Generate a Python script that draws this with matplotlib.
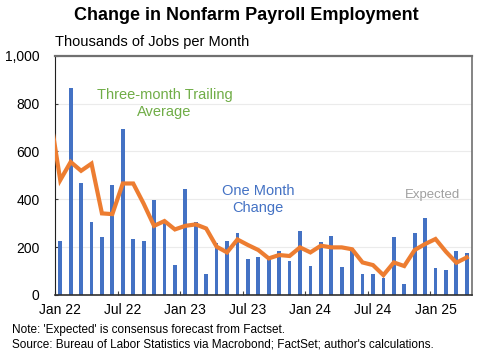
import numpy as np
import matplotlib.pyplot as plt

plt.rcParams['font.family'] = ['Liberation Sans', 'DejaVu Sans']

# monthly change, thousands (Jan 22 .. Apr 25, last one is expected)
one_month = [225, 866, 470, 305, 241, 460, 695, 236, 227, 398, 299, 127,
             444, 305, 86, 218, 227, 257, 149, 157, 153, 185, 142, 268,
             120, 221, 246, 118, 195, 86, 88, 71, 241, 45, 261, 323,
             111, 104, 185, 177]
# three-month trailing average (Dec 21 .. Apr 25)
trailing = [760, 480, 556, 519, 549, 341, 338, 466, 466, 382, 289, 309, 274,
            289, 295, 278, 202, 178, 232, 209, 188, 153, 167, 163, 199,
            178, 206, 199, 199, 191, 136, 125, 83, 136, 121, 188, 213,
            234, 181, 135, 157]
tick_labels = ['Jan 22', 'Jul 22', 'Jan 23', 'Jul 23', 'Jan 24', 'Jul 24', 'Jan 25']

blue = '#4472C4'
orange = '#ED7D31'
green = '#70AD47'

fig = plt.figure(figsize=(4.93, 3.58), dpi=100)
ax = fig.add_axes([0.1116, 0.176, 0.8458, 0.6684])

x_bar = np.arange(len(one_month)) + 0.5
x_line = np.arange(len(trailing)) - 0.5
ax.bar(x_bar, one_month, width=0.36, color=blue, zorder=2)
ax.plot(x_line, trailing, color=orange, lw=3, zorder=3, solid_joinstyle='miter')

ax.set_xlim(0, len(one_month))
ax.set_ylim(0, 1000)
# tick marks at month starts, labels at month centres
ax.set_xticks(np.arange(0, 37, 6))
ax.set_xticklabels([])
ax.set_xticks(np.arange(0, 37, 6) + 0.5, minor=True)
ax.set_xticklabels(tick_labels, minor=True, fontsize=10)
ax.set_yticks(np.arange(0, 1001, 200))
ax.set_yticklabels(['0', '200', '400', '600', '800', '1,000'], fontsize=10)
ax.tick_params(axis='x', which='major', direction='in', length=3, color='#404040')
ax.tick_params(axis='x', which='minor', length=0, pad=6)
ax.tick_params(axis='y', direction='in', length=2, pad=11, color='#404040')
ax.grid(axis='y', color='#EBEBEB', lw=0.8, zorder=0)

ax.spines['left'].set_color('#202020')
ax.spines['bottom'].set_color('#303030')
ax.spines['bottom'].set_linewidth(1.2)
ax.spines['top'].set_color('#707070')
ax.spines['top'].set_linewidth(1.6)
ax.spines['right'].set_color('#707070')
ax.spines['right'].set_linewidth(1.2)

ax.text(10.5, 800, 'Three-month Trailing\nAverage', color=green, fontsize=10.5,
        ha='center', va='center', linespacing=1.3)
ax.text(19.5, 400, 'One Month\nChange', color=blue, fontsize=10.5,
        ha='center', va='center', linespacing=1.3)
ax.text(36.2, 418, 'Expected', color='#A0A0A0', fontsize=9.5,
        ha='center', va='center')

fig.text(0.5, 0.956, 'Change in Nonfarm Payroll Employment', ha='center', va='center',
         fontsize=13, fontweight='bold')
fig.text(0.111, 0.882, 'Thousands of Jobs per Month', ha='left', va='center', fontsize=10.5)
fig.text(0.024, 0.077, "Note: 'Expected' is consensus forecast from Factset.",
         ha='left', va='center', fontsize=8.5)
fig.text(0.024, 0.037, "Source: Bureau of Labor Statistics via Macrobond; FactSet; author's calculations.",
         ha='left', va='center', fontsize=8.5)

fig.savefig('out.png', dpi=100)
